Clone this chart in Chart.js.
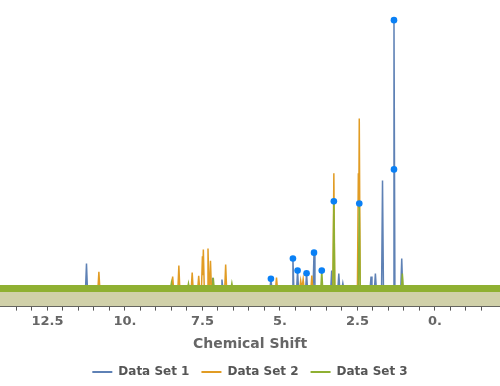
<!DOCTYPE html>
<html>
<head>
<meta charset="utf-8">
<script src="https://cdn.jsdelivr.net/npm/chart.js@4.4.1/dist/chart.umd.min.js"></script>
<style>
  body { margin: 0; background: #fff; }
  #wrap { width: 500px; height: 386px; }
</style>
</head>
<body>
<div id="wrap"><canvas id="nmr"></canvas></div>
<script>
// spectra (ppm, relative intensity)
const shift1 = [14.03, 11.27, 11.24, 11.21, 7.20, 7.17, 7.14, 6.90, 6.87, 6.84, 5.32, 5.29, 5.26,
  4.61, 4.58, 4.55, 4.46, 4.43, 4.40, 4.17, 4.14, 4.11, 3.93, 3.90, 3.87, 3.36, 3.33, 3.30,
  3.13, 3.10, 3.07, 3.00, 2.97, 2.94, 2.09, 2.06, 2.03, 1.95, 1.92, 1.89, 1.72, 1.69, 1.66,
  1.35, 1.32, 1.29, 1.10, 1.07, 1.04, -2.10];
const value1 = [0, 0, 0.093, 0, 0, 0.040, 0, 0, 0.034, 0, 0, 0.037, 0,
  0, 0.112, 0, 0, 0.067, 0, 0, 0.057, 0, 0, 0.134, 0, 0, 0.067, 0,
  0, 0.056, 0, 0, 0.020, 0, 0, 0.045, 0, 0, 0.056, 0, 0, 0.403, 0,
  0, 1.0, 0, 0, 0.112, 0, 0];

const shift2 = [14.03, 10.87, 10.84, 10.81, 8.49, 8.46, 8.43, 8.29, 8.26, 8.23, 7.86, 7.83, 7.80,
  7.65, 7.62, 7.59, 7.53, 7.50, 7.49, 7.47, 7.44, 7.35, 7.32, 7.29, 7.27, 7.24, 7.21,
  6.78, 6.75, 6.72, 5.14, 5.11, 5.08, 4.36, 4.33, 4.29, 4.25, 4.22, 4.00, 3.97, 3.94,
  3.29, 3.26, 3.23, 2.50, 2.47, 2.455, 2.44, 2.41, -2.10];
const value2 = [0, 0, 0.063, 0, 0, 0.045, 0, 0, 0.086, 0, 0, 0.060, 0,
  0, 0.048, 0, 0, 0.120, 0.050, 0.146, 0, 0, 0.149, 0, 0, 0.104, 0,
  0, 0.090, 0, 0, 0.041, 0, 0, 0.030, 0, 0.035, 0, 0, 0.049, 0,
  0, 0.430, 0, 0, 0.430, 0.300, 0.634, 0, 0];

const shift3 = [14.03, 8.53, 8.50, 8.47, 7.98, 7.95, 7.92, 7.18, 7.15, 7.12, 6.58, 6.55, 6.52,
  3.68, 3.65, 3.62, 3.29, 3.26, 3.23, 2.47, 2.44, 2.41, 1.08, 1.05, 1.02, -2.10];
const value3 = [0, 0, 0.022, 0, 0, 0.019, 0, 0, 0.040, 0, 0, 0.020, 0,
  0, 0.067, 0, 0, 0.325, 0, 0, 0.317, 0, 0, 0.056, 0, 0];

const peakShift = [5.29, 4.58, 4.43, 4.14, 3.90, 3.65, 3.26, 2.44, 1.32, 1.32];
const peakValue = [0.037, 0.112, 0.067, 0.057, 0.134, 0.067, 0.325, 0.317, 0.444, 1.0];

const baseShift = [14.03, -2.10];
const baseValue = [0, 0];

const seriesNames = ["Data Set 1", "Data Set 2", "Data Set 3"];
const colors = ["#5e81b5", "#e19c24", "#8fb032"];

function pts(xs, ys) {
  return xs.map((x, i) => ({ x: x, y: ys[i] }));
}

function spectrum(label, xs, ys, color) {
  return {
    label: label,
    data: pts(xs, ys),
    borderColor: color,
    backgroundColor: color,
    borderWidth: 1.5,
    pointRadius: 0,
    tension: 0,
    fill: false
  };
}

// index 0 is drawn last (on top)
const datasets = [
  {
    label: "peaks",
    data: pts(peakShift, peakValue),
    showLine: false,
    pointRadius: 3.3,
    pointBackgroundColor: "#0a80f5",
    pointBorderWidth: 0
  },
  {
    label: "baseline",
    data: pts(baseShift, baseValue),
    borderColor: "#8fb032",
    borderWidth: 7,
    pointRadius: 0,
    fill: "start",
    backgroundColor: "#d0d0a9"
  },
  spectrum(seriesNames[2], shift3, value3, colors[2]),
  spectrum(seriesNames[1], shift2, value2, colors[1]),
  spectrum(seriesNames[0], shift1, value1, colors[0])
];

new Chart(document.getElementById("nmr"), {
  type: "line",
  data: { datasets: datasets },
  options: {
    responsive: true,
    maintainAspectRatio: false,
    animation: false,
    layout: { padding: { bottom: -2 }, autoPadding: false },
    plugins: {
      tooltip: { enabled: false },
      legend: {
        position: "bottom",
        labels: {
          boxWidth: 20,
          boxHeight: 2,
          padding: 12,
          color: "#555",
          font: { family: "DejaVu Sans", size: 12, weight: "bold" },
          generateLabels: chart => Chart.defaults.plugins.legend.labels.generateLabels(chart)
            .filter(l => seriesNames.includes(l.text))
            .map(l => Object.assign(l, { lineWidth: 0 })),
          sort: (a, b) => b.datasetIndex - a.datasetIndex
        }
      }
    },
    scales: {
      x: {
        type: "linear",
        reverse: true,
        min: -2.10,
        max: 14.03,
        afterBuildTicks: scale => {
          scale.ticks = scale.ticks.filter(t => Math.abs(t.value * 2 - Math.round(t.value * 2)) < 1e-6);
        },
        ticks: {
          stepSize: 0.5,
          autoSkip: false,
          maxRotation: 0,
          padding: 3,
          color: "#666",
          font: { family: "DejaVu Sans", size: 13, weight: "bold" },
          callback: v => {
            if (Math.abs(v / 2.5 - Math.round(v / 2.5)) > 1e-6) return "";
            return Number.isInteger(v) ? v + "." : String(v);
          }
        },
        grid: {
          drawOnChartArea: false,
          tickLength: 4,
          tickColor: "#555"
        },
        border: { color: "#555", width: 1 },
        title: {
          display: true,
          text: "Chemical Shift",
          color: "#666",
          font: { family: "DejaVu Sans", size: 14, weight: "bold" },
          padding: { top: 4, bottom: 1 }
        }
      },
      y: {
        display: false,
        min: -0.067,
        max: 1.075
      }
    }
  }
});
</script>
</body>
</html>
